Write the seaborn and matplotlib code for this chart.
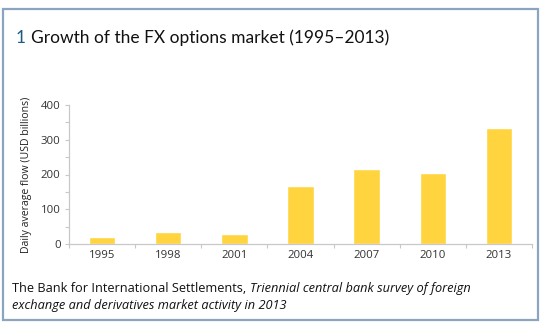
import matplotlib
matplotlib.use("Agg")
import matplotlib.pyplot as plt
import seaborn as sns
import pandas as pd
from matplotlib.patches import Rectangle
from matplotlib.ticker import MultipleLocator, FixedLocator

years = ["1995", "1998", "2001", "2004", "2007", "2010", "2013"]
flows = [21, 35, 28, 168, 216, 205, 335]
y_ticks = [0, 100, 200, 300, 400]

title_num = "1"
title_text = "Growth of the FX options market (1995–2013)"
y_label = "Daily average flow (USD billions)"
source_plain = "The Bank for International Settlements, "
source_italic1 = "Triennial central bank survey of foreign"
source_italic2 = "exchange and derivatives market activity in 2013"

sns.set_theme(style="white")
plt.rcParams['font.family'] = ['Open Sans', 'DejaVu Sans']

df = pd.DataFrame({"year": years, "flow": flows})

fig = plt.figure(figsize=(5.4, 3.34), dpi=100)
ax = fig.add_axes([69/540, 1-244/334, (532-69)/540, (244-105)/334])

sns.barplot(data=df, x="year", y="flow", color="#FFD43F", width=0.4,
            saturation=1, ax=ax)
ax.set_xlim(-0.5, len(years) - 0.5)
ax.set_ylim(0, 400)
ax.set_yticks(y_ticks)
ax.yaxis.set_minor_locator(MultipleLocator(50))
ax.xaxis.set_minor_locator(FixedLocator([i - 0.5 for i in range(len(years) + 1)]))
ax.set_xlabel("")
ax.set_ylabel(y_label, fontsize=7.6, color="#222222", labelpad=6)

for s in ["top", "right"]:
    ax.spines[s].set_visible(False)
for s in ["left", "bottom"]:
    ax.spines[s].set_color("#c8c8c8")
    ax.spines[s].set_linewidth(0.9)

ax.tick_params(axis="y", which="both", direction="out", length=3, width=0.8,
               color="#c8c8c8", labelsize=8.2, labelcolor="#333333", pad=3, left=True)
ax.tick_params(axis="x", which="major", length=0, labelsize=8.2, labelcolor="#333333", pad=4)
ax.tick_params(axis="x", which="minor", direction="out", length=3, width=0.8,
               color="#c8c8c8", bottom=True)

# frame
fig.patches.append(Rectangle((3/540, 1-320/334), 535/540, 311/334,
                             transform=fig.transFigure, fill=False,
                             edgecolor="#8ba4bf", linewidth=1.6))

fig.text(16/540, 1-43/334, title_num, fontsize=12.5, family=["Lato", "DejaVu Sans"],
         color="#1c5a86", va="baseline")
fig.text(31/540, 1-43/334, title_text, fontsize=12.5, family=["Lato", "DejaVu Sans"],
         color="#111111", va="baseline")

t1 = fig.text(12/540, 1-292/334, source_plain, fontsize=9.15, color="#111111", va="baseline")
fig.canvas.draw()
bb = t1.get_window_extent()
fig.text(bb.x1 / fig.bbox.width, 1-292/334, source_italic1,
         fontsize=9.15, style="italic", color="#111111", va="baseline")
fig.text(12/540, 1-309/334, source_italic2, fontsize=9.15, style="italic",
         color="#111111", va="baseline")

fig.savefig("out.png", dpi=100)
